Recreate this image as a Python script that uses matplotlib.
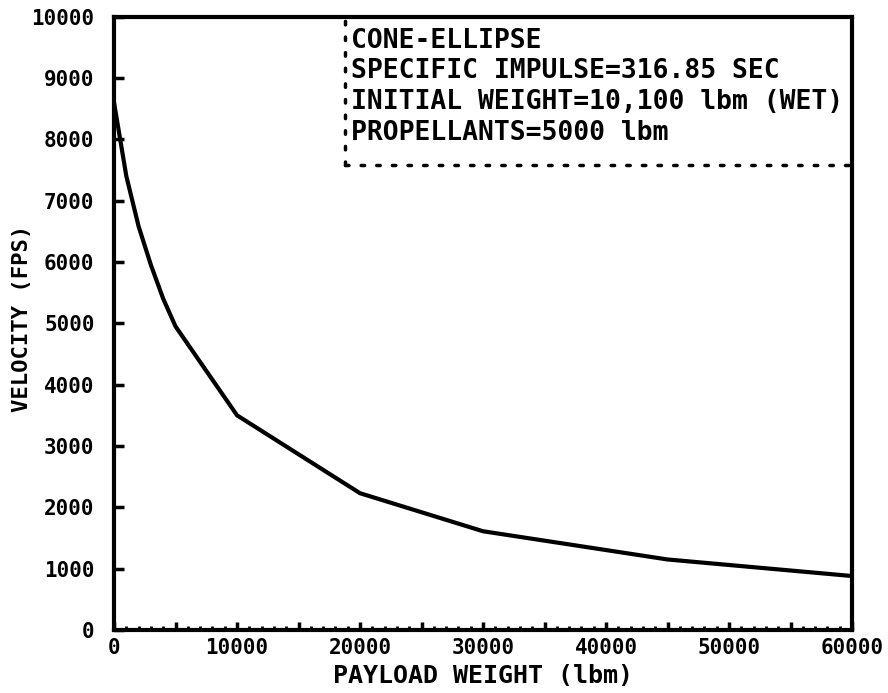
import numpy as np
import matplotlib.pyplot as plt
from matplotlib.ticker import MultipleLocator, FuncFormatter

payload = [0, 1000, 2000, 3000, 4000, 5000, 10000, 20000, 30000, 45000, 60000]
velocity = [8600, 7400, 6580, 5950, 5400, 4950, 3500, 2230, 1610, 1150, 880]

info_lines = ["CONE-ELLIPSE",
              "SPECIFIC IMPULSE=316.85 SEC",
              "INITIAL WEIGHT=10,100 lbm (WET)",
              "PROPELLANTS=5000 lbm"]

plt.rcParams['font.family'] = 'DejaVu Sans Mono'
plt.rcParams['font.weight'] = 'bold'

fig = plt.figure(figsize=(8.88, 6.93), dpi=100)
ax = fig.add_axes([0.1284, 0.0909, 0.9595 - 0.1284, 0.976 - 0.0909])

ax.plot(payload, velocity, c='k', lw=3, solid_joinstyle='miter')

ax.set_xlim(0, 60000)
ax.set_ylim(0, 10000)
for s in ax.spines.values():
    s.set_linewidth(3)

ax.xaxis.set_major_locator(MultipleLocator(5000))
ax.xaxis.set_major_formatter(FuncFormatter(lambda v, p: '%d' % v if v % 10000 == 0 else ''))
ax.xaxis.set_minor_locator(MultipleLocator(1000))
ax.yaxis.set_major_locator(MultipleLocator(1000))
ax.tick_params(axis='both', which='major', direction='in', width=2.5, length=7,
               labelsize=15, top=False, right=False)
ax.tick_params(axis='x', which='major', length=6, pad=6)
ax.tick_params(axis='x', which='minor', direction='in', width=2, length=3,
               top=False)
ax.tick_params(axis='y', which='major', pad=14)

# dotted box around the info text
bx, by = 18800, 7580
ax.plot([bx, bx], [by, 10000], ls=(0, (1, 3.5)), c='k', lw=2.5, dash_capstyle='round')
ax.plot([bx, 60000], [by, by], ls=(0, (1, 3.5)), c='k', lw=2.5, dash_capstyle='round')

for i, t in enumerate(info_lines):
    ax.text(19300, 9610 - i * 500, t, fontsize=19, fontweight='bold', va='center', ha='left')

ax.set_xlabel('PAYLOAD WEIGHT (lbm)', fontsize=18, fontweight='bold', labelpad=4)
fig.text(22 / 888, 0.541, 'VELOCITY (FPS)', rotation=90, fontsize=16,
         fontweight='bold', ha='center', va='center')

fig.savefig('out.png', dpi=100)
